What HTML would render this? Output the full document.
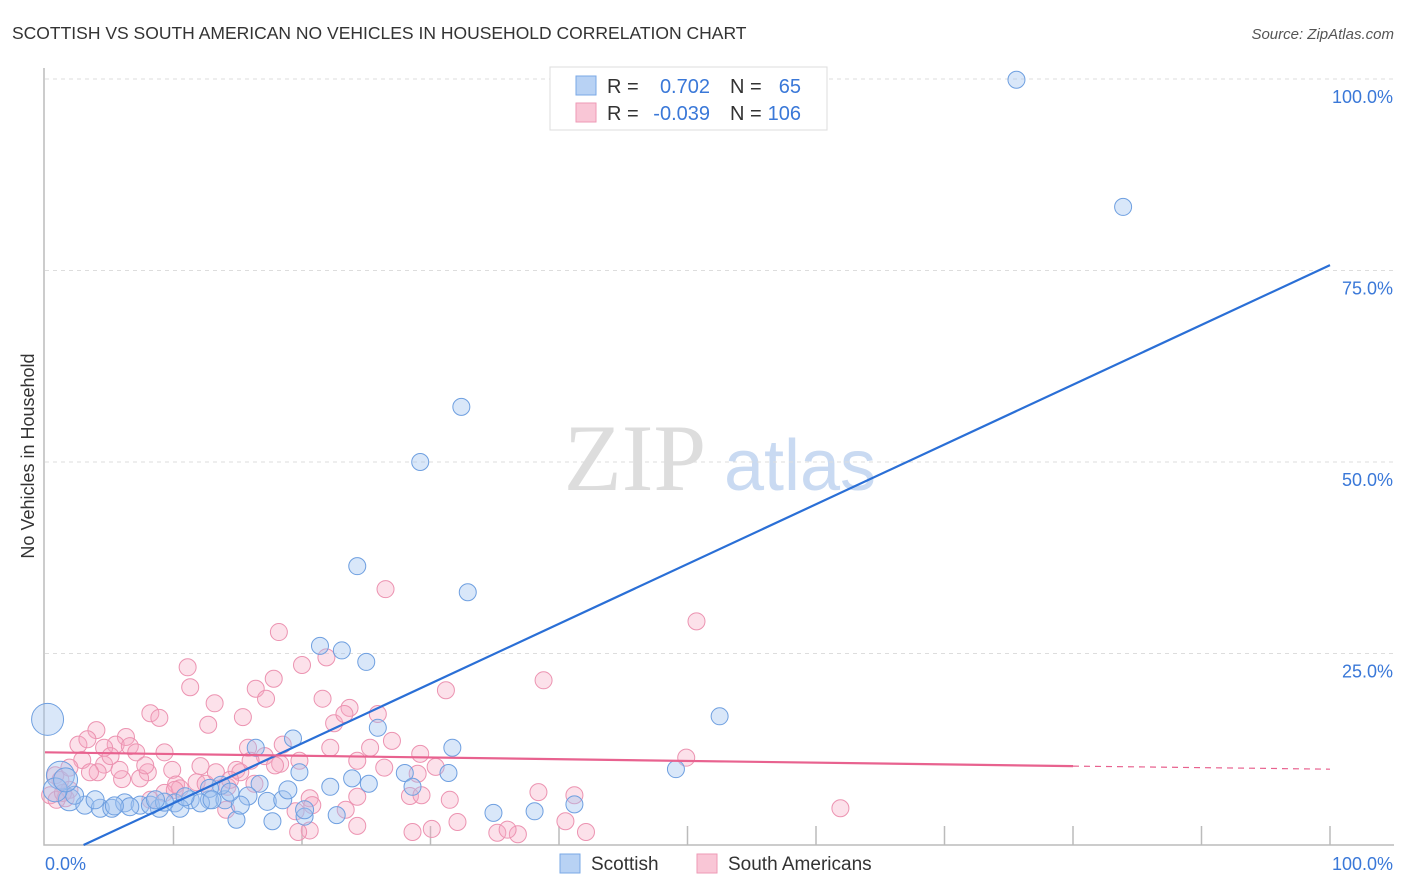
<!DOCTYPE html>
<html><head><meta charset="utf-8"><style>
body{margin:0;background:#fff;font-family:"Liberation Sans",sans-serif;}
#wrap{position:relative;width:1406px;height:892px;overflow:hidden;}
</style></head><body>
<div id="wrap">
<svg id="svg" width="1406" height="892" xmlns="http://www.w3.org/2000/svg">
<text x="12" y="39" font-size="17.5" fill="#333">SCOTTISH VS SOUTH AMERICAN NO VEHICLES IN HOUSEHOLD CORRELATION CHART</text>
<text x="1394" y="39" font-size="15" fill="#555" font-style="italic" text-anchor="end">Source: ZipAtlas.com</text>
<text x="34" y="456" font-size="18" fill="#333" text-anchor="middle" transform="rotate(-90 34 456)">No Vehicles in Household</text>
<g><text x="635" y="490" font-size="95" fill="#ddd" font-family="Liberation Serif,serif" text-anchor="middle">ZIP</text><text x="800" y="490" font-size="72" fill="#c9daf2" text-anchor="middle">atlas</text></g>
<g id="grid"></g><g id="axes"></g><g id="pts"></g><g id="lines"></g>
<g>
<rect x="550" y="67" width="277" height="63" fill="#fff" stroke="#ddd"/>
<rect x="576" y="76" width="20" height="19" fill="#b8d2f4" stroke="#7aa8e6"/>
<rect x="576" y="103" width="20" height="19" fill="#f9c6d6" stroke="#ee9ab6"/>
<text x="607" y="93" font-size="20" fill="#333">R = </text><text x="710" y="93" font-size="20" fill="#3a78d8" text-anchor="end">0.702</text>
<text x="730" y="93" font-size="20" fill="#333">N = </text><text x="801" y="93" font-size="20" fill="#3a78d8" text-anchor="end">65</text>
<text x="607" y="120" font-size="20" fill="#333">R = </text><text x="710" y="120" font-size="20" fill="#3a78d8" text-anchor="end">-0.039</text>
<text x="730" y="120" font-size="20" fill="#333">N = </text><text x="801" y="120" font-size="20" fill="#3a78d8" text-anchor="end">106</text>
</g>
<g>
<rect x="560" y="854" width="20" height="19" fill="#b8d2f4" stroke="#7aa8e6"/><text x="591" y="870" font-size="19" fill="#333">Scottish</text>
<rect x="697" y="854" width="20" height="19" fill="#f9c6d6" stroke="#ee9ab6"/><text x="728" y="870" font-size="19" fill="#333">South Americans</text>
</g>
</svg></div>
<script>
const blueX=[75.6,83.9,32.4,29.2,24.3,32.9,21.4,23.1,25.0,52.5,19.3,25.9,31.7,16.4,49.1,19.8,28.0,23.9,25.2,22.2,31.4,28.6,16.7,41.2,14.9,17.7,34.9,38.1,20.2,22.7,0.2,1.2,1.9,3.1,4.3,5.2,6.2,7.4,8.9,10.1,11.3,12.8,14.0,15.8,17.3,18.5,13.7,12.8,6.6,8.2,10.5,12.1,15.2,2.3,3.9,5.4,9.3,0.8,1.6,14.4,18.9,13.0,10.9,20.2,8.6];
const blueY=[99.9,83.3,57.2,50.0,36.4,33.0,26.0,25.4,23.9,16.8,13.9,15.3,12.7,12.7,9.9,9.5,9.4,8.7,8.0,7.6,9.4,7.6,8.0,5.3,3.3,3.1,4.2,4.4,3.7,3.9,16.4,9.1,5.9,5.2,4.8,4.8,5.5,5.2,4.8,5.5,5.9,5.9,5.9,6.4,5.7,5.9,7.8,7.4,5.0,5.2,4.8,5.5,5.2,6.5,5.9,5.1,5.6,7.2,8.5,6.9,7.2,5.9,6.3,4.6,5.9];
const blueR=[8.5,8.5,8.5,8.5,8.5,8.5,8.5,8.5,8.5,8.5,8.5,8.5,8.5,8.5,8.5,8.5,8.5,8.5,8.5,8.5,8.5,8.5,8.5,8.5,8.5,8.5,8.5,8.5,8.5,8.5,16,14,11,9,9,9,9,9,9,9,9,9,9,9,9,9,9,9,9,9,9,9,9,9,9,9,9,12,12,9,9,9,9,9,9];
const pinkX=[26.5,50.7,18.2,21.9,20.0,11.1,17.8,11.3,38.8,31.2,16.4,21.6,17.2,13.2,23.7,8.2,15.4,8.9,12.7,22.5,25.9,23.3,4.0,6.3,2.6,3.3,5.5,6.6,4.6,7.1,9.3,15.8,17.1,18.5,16.0,22.2,25.3,27.0,29.2,49.9,24.3,4.6,9.9,12.1,14.9,18.3,8.0,11.8,10.2,14.2,16.3,6.0,7.4,2.9,4.1,1.2,1.9,0.4,1.6,0.8,26.4,30.4,29.0,28.4,29.3,31.5,38.4,41.2,20.6,24.3,32.1,36.8,20.6,19.7,24.3,23.4,28.6,30.1,35.2,36.0,40.5,42.1,61.9,14.1,8.2,9.3,10.5,12.5,15.2,19.5,20.8,5.8,3.5,1.9,13.3,19.8,17.9,7.8,0.9,5.1,10.1,14.4,1.4];
const pinkY=[33.4,29.2,27.8,24.5,23.5,23.2,21.7,20.6,21.5,20.2,20.4,19.1,19.1,18.5,17.9,17.2,16.7,16.6,15.7,15.9,17.1,17.1,15.0,14.1,13.1,13.8,13.1,12.9,12.7,12.1,12.1,12.7,11.6,13.1,11.0,12.7,12.7,13.6,11.9,11.4,11.0,10.5,9.8,10.3,9.8,10.6,9.5,8.2,7.9,7.6,8.0,8.6,8.7,11.1,9.5,8.5,7.2,6.5,6.1,9.1,10.1,10.2,9.3,6.4,6.5,5.9,6.9,6.5,6.1,6.3,3.0,1.4,1.9,1.7,2.5,4.6,1.7,2.1,1.6,2.0,3.1,1.7,4.8,4.6,5.9,6.8,7.4,8.0,9.5,4.4,5.2,9.8,9.5,10.1,9.5,11.0,10.4,10.4,5.9,11.6,7.2,8.5,6.8];
const xTicks=[0,10,20,30,40,50,60,70,80,90,100];
const yTicks=[25,50,75,100];
const yTickLabels=["25.0%","50.0%","75.0%","100.0%"];
const blueFit=[3.0,0,100,75.7];   // x0,y0,x1,y1 in %
const pinkFit=[0,12.1,80,10.3,100,9.9];
const X=v=>45+v*12.85, Y=v=>845-v*7.66;
const NS="http://www.w3.org/2000/svg";
function mk(tag,attrs,parent){const e=document.createElementNS(NS,tag);for(const k in attrs)e.setAttribute(k,attrs[k]);parent.appendChild(e);return e;}
const grid=document.getElementById('grid'),axes=document.getElementById('axes'),pts=document.getElementById('pts'),lines=document.getElementById('lines');
yTicks.forEach((t,i)=>{
 const g=mk('line',{x1:45,x2:1394,y1:Y(t),y2:Y(t),stroke:'#ddd','stroke-dasharray':'4,4'},grid);
 
 
 const tx=mk('text',{x:1393,y:Y(t)+24,'font-size':18,fill:'#3a78d8','text-anchor':'end'},axes);
 tx.textContent=yTickLabels[i];
 
 
});
const ax=mk('path',{d:'M44,68 V845 H1394',fill:'none',stroke:'#bbb','stroke-width':1.5},axes);


xTicks.forEach(t=>{
 if(t===0)return;
 const l=mk('line',{x1:X(t),x2:X(t),y1:826,y2:845,stroke:'#bbb','stroke-width':1.5},axes);
 
 
});
const xl0=mk('text',{x:45,y:870,'font-size':18,fill:'#3a78d8'},axes);xl0.textContent='0.0%';


const xl1=mk('text',{x:1393,y:870,'font-size':18,fill:'#3a78d8','text-anchor':'end'},axes);xl1.textContent='100.0%';


pinkX.forEach((v,i)=>{
 const c=mk('circle',{cx:X(v),cy:Y(pinkY[i]),r:8.5,fill:'rgba(246,170,196,0.35)',stroke:'#ec93b1','stroke-width':1},pts);
 
 
});
blueX.forEach((v,i)=>{
 const c=mk('circle',{cx:X(v),cy:Y(blueY[i]),r:blueR[i],fill:'rgba(160,196,240,0.4)',stroke:'#6e9fe0','stroke-width':1},pts);
 
 
});
const bl=mk('line',{x1:X(blueFit[0]),y1:Y(blueFit[1]),x2:X(blueFit[2]),y2:Y(blueFit[3]),stroke:'#2a6fd6','stroke-width':2.2},lines);


const pl=mk('line',{x1:X(pinkFit[0]),y1:Y(pinkFit[1]),x2:X(pinkFit[2]),y2:Y(pinkFit[3]),stroke:'#e8628f','stroke-width':2.2},lines);


const pd=mk('line',{x1:X(pinkFit[2]),y1:Y(pinkFit[3]),x2:X(pinkFit[4]),y2:Y(pinkFit[5]),stroke:'#e8628f','stroke-width':1.2,'stroke-dasharray':'6,5'},lines);


</script>
</body></html>
